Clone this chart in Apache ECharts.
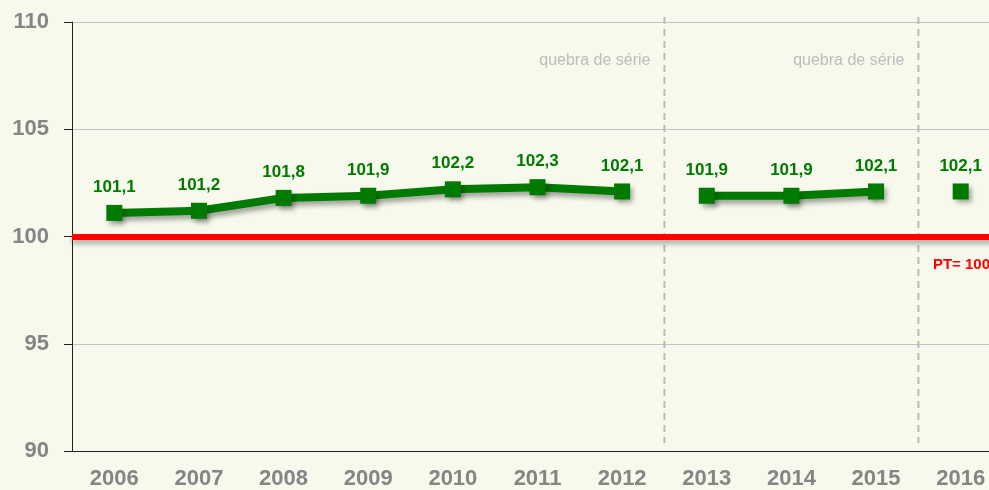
<!DOCTYPE html>
<html>
<head>
<meta charset="utf-8">
<script src="https://cdn.jsdelivr.net/npm/echarts@6/dist/echarts.min.js"></script>
<style>
  html, body { margin: 0; padding: 0; background: #f6f9ec; }
  #chart { width: 989px; height: 490px; }
</style>
</head>
<body>
<div id="chart"></div>
<script>
// dados
const years = ["2006", "2007", "2008", "2009", "2010", "2011", "2012", "2013", "2014", "2015", "2016"];
const serie1 = [101.1, 101.2, 101.8, 101.9, 102.2, 102.3, 102.1, null, null, null, null];
const serie2 = [null, null, null, null, null, null, null, 101.9, 101.9, 102.1, null];
const serie3 = [null, null, null, null, null, null, null, null, null, null, 102.1];
const quebras = [7, 10]; // fronteiras das quebras de série (em índice de categoria)
const referencia = 100;

const chart = echarts.init(document.getElementById("chart"));

const verde = "#007a00";
const sombra = {
  shadowColor: "rgba(0,0,0,0.35)",
  shadowBlur: 5,
  shadowOffsetX: 3,
  shadowOffsetY: 4
};

function linha(data) {
  return {
    type: "line",
    data: data,
    symbol: "rect",
    symbolSize: 16,
    connectNulls: false,
    lineStyle: Object.assign({ color: verde, width: 8 }, sombra),
    itemStyle: Object.assign({ color: verde, borderWidth: 0 }, sombra),
    label: {
      show: true,
      position: "top",
      distance: 9,
      color: verde,
      fontFamily: "Liberation Sans",
      fontWeight: "bold",
      fontSize: 17,
      formatter: (p) => String(p.value).replace(".", ",")
    },
    z: 5
  };
}

const option = {
  backgroundColor: "#f6f9ec",
  animation: false,
  grid: { left: 72, right: -14, top: 22, bottom: 39, outerBoundsMode: "none" },
  xAxis: [
    {
      type: "category",
      data: years,
      axisLine: { lineStyle: { color: "#222", width: 1 } },
      axisTick: { length: 7, lineStyle: { color: "#222" } },
      axisLabel: {
        color: "#858585",
        fontFamily: "Liberation Sans",
        fontWeight: "bold",
        fontSize: 22,
        margin: 17
      }
    },
    {
      type: "value",
      min: 0,
      max: years.length,
      show: false
    }
  ],
  yAxis: {
    type: "value",
    min: 90,
    max: 110,
    interval: 5,
    axisLine: { show: true, lineStyle: { color: "#222", width: 1 } },
    axisTick: { show: true, length: 8, lineStyle: { color: "#222" } },
    axisLabel: {
      color: "#858585",
      fontFamily: "Liberation Sans",
      fontWeight: "bold",
      fontSize: 22,
      margin: 23
    },
    splitLine: { lineStyle: { color: "#c4c4c4", width: 1 } }
  },
  series: [
    linha(serie1),
    linha(serie2),
    linha(serie3),
    {
      // linha de referência PT = 100
      type: "line",
      data: [],
      markLine: {
        silent: true,
        symbol: "none",
        lineStyle: Object.assign({ color: "#ff0000", width: 6, type: "solid" }, {
          shadowColor: "rgba(0,0,0,0.3)", shadowBlur: 5, shadowOffsetY: 4
        }),
        label: {
          position: "insideEndBottom",
          distance: [13, 21],
          formatter: "PT= " + referencia,
          color: "#ff0000",
          fontFamily: "Liberation Sans",
          fontWeight: "bold",
          fontSize: 15
        },
        data: [{ yAxis: referencia }]
      },
      z: 3
    },
    {
      // quebras de série (linhas tracejadas)
      type: "custom",
      xAxisIndex: 1,
      clip: false,
      silent: true,
      data: quebras.map((q) => [q]),
      encode: { x: 0 },
      renderItem: (params, api) => {
        const topo = api.coord([api.value(0), 110.23]);
        const base = api.coord([api.value(0), 90.37]);
        return {
          type: "line",
          shape: { x1: topo[0], y1: topo[1], x2: base[0], y2: base[1] },
          style: { stroke: "#bababa", lineWidth: 2, lineDash: [7, 5] }
        };
      },
      markPoint: {
        silent: true,
        symbol: "rect",
        symbolSize: 0,
        label: {
          show: true,
          position: "left",
          distance: 14,
          formatter: "quebra de série",
          color: "#bdbdbd",
          fontFamily: "Liberation Sans",
          fontSize: 16
        },
        data: quebras.map((q) => ({ coord: [q, 108.2] }))
      },
      z: 2
    }
  ]
};

chart.setOption(option);
</script>
</body>
</html>
